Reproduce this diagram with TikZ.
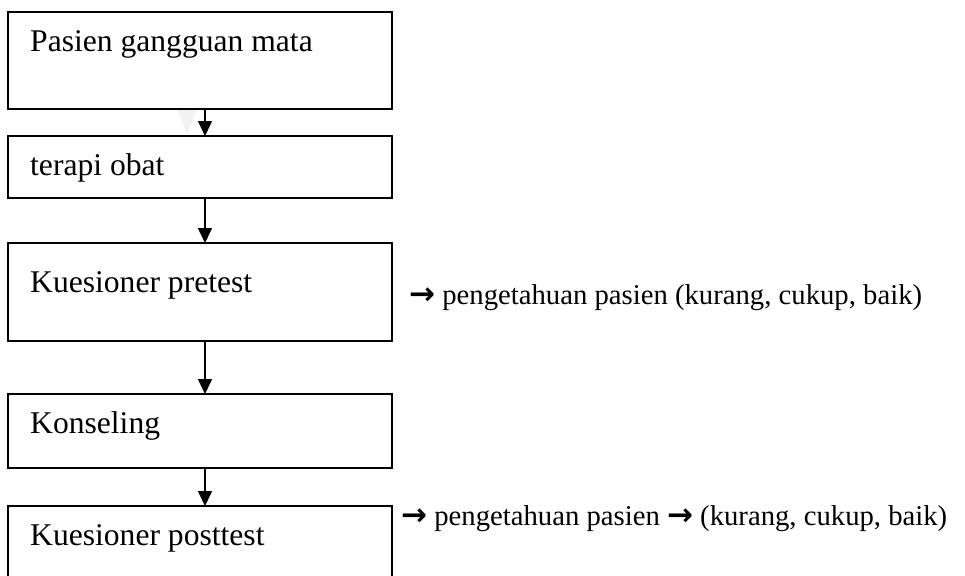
\documentclass[tikz,border=0pt]{standalone}
\usepackage{fontspec}
\setmainfont{Liberation Serif}
\newfontfamily\arrowfont{DejaVu Sans}
\usetikzlibrary{arrows.meta}
\tikzset{
  box/.style={draw, line width=2.6pt, rectangle, minimum width=384pt, anchor=north west, inner sep=0pt, outer sep=0pt},
  boxtext/.style={anchor=base west, inner sep=0pt, font=\fontsize{31.6}{38}\selectfont},
  sidetext/.style={anchor=base west, inner sep=0pt, font=\fontsize{28.7}{34}\selectfont},
  flow/.style={line width=1.6pt, -{Triangle[width=14pt,length=15pt]}}
}
\newcommand{\boldarr}{{\arrowfont\bfseries\fontsize{31}{34}\selectfont\raisebox{-0.5pt}{→}}}
\begin{document}
\begin{tikzpicture}[x=1pt,y=-1pt]
\useasboundingbox (0,0) rectangle (965,575);
\clip (0,0) rectangle (965,575);
% ghost triangle
\fill[gray!10] (177,110) -- (197,110) -- (187,134) -- cycle;
% boxes
\node[box, minimum height=97pt] (b1) at (8,12) {};
\node[box, minimum height=62pt] (b2) at (8,136) {};
\node[box, minimum height=98pt] (b3) at (8,243) {};
\node[box, minimum height=74pt] (b4) at (8,394) {};
\node[box, minimum height=100pt] (b5) at (8,506) {};
% box texts
\node[boxtext] (t1) at (30,52) {Pasien gangguan mata};
\node[boxtext] (t2) at (30,175) {terapi obat};
\node[boxtext] (t3) at (30,292) {Kuesioner pretest};
\node[boxtext] (t4) at (30,433) {Konseling};
\node[boxtext] (t5) at (30,545) {Kuesioner posttest};
% side texts
\node[sidetext] (s1) at (409,304) {\boldarr\ pengetahuan pasien (kurang, cukup, baik)};
\node[sidetext] (s2) at (401,525) {\boldarr\ pengetahuan pasien \boldarr\ (kurang, cukup, baik)};
% connectors
\draw[flow] ([xshift=5pt]b1.south) -- ([xshift=5pt]b2.north);
\draw[flow] ([xshift=5pt]b2.south) -- ([xshift=5pt]b3.north);
\draw[flow] ([xshift=5pt]b3.south) -- ([xshift=5pt]b4.north);
\draw[flow] ([xshift=5pt]b4.south) -- ([xshift=5pt]b5.north);
\end{tikzpicture}
\end{document}
